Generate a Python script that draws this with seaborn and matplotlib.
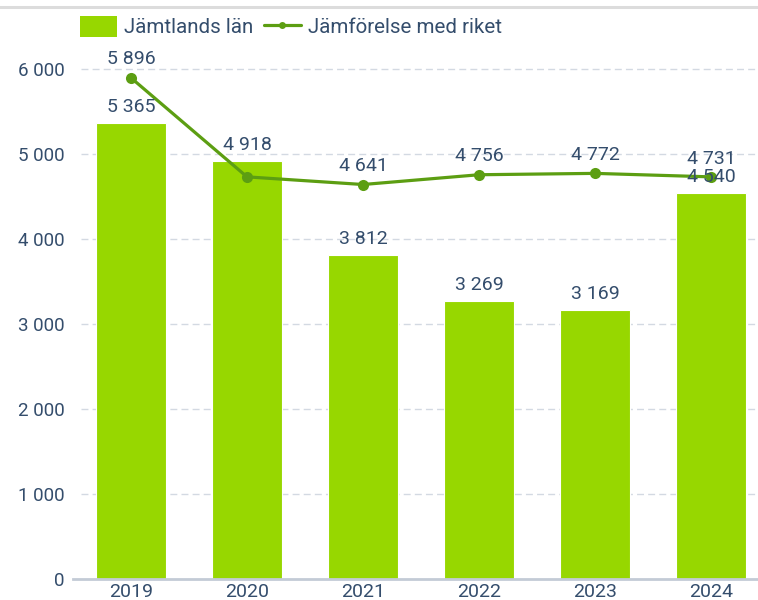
import matplotlib
matplotlib.use("Agg")
import matplotlib.pyplot as plt
from matplotlib.lines import Line2D
from matplotlib.patches import Patch
import numpy as np
import pandas as pd
import seaborn as sns

years = ["2019", "2020", "2021", "2022", "2023", "2024"]
jamtland = [5365, 4918, 3812, 3269, 3169, 4540]
riket = [5896, 4731, 4641, 4756, 4772, 4731]
yticks = [0, 1000, 2000, 3000, 4000, 5000, 6000]

BAR = "#97d700"
LINE = "#5c9e12"
TEXT = "#344d6c"
GRID = "#d3d9e2"

sns.set_theme(style="white")
plt.rcParams["font.family"] = ["Roboto", "DejaVu Sans"]


def fmt(v):
    return f"{v:,}".replace(",", " ")


df = pd.DataFrame({"year": years, "jamtland": jamtland, "riket": riket})

W, H = 758, 600
fig = plt.figure(figsize=(W / 100, H / 100), dpi=100)
ax = fig.add_axes([73 / W, 21 / H, 696 / W, 535.5 / H])

sns.barplot(data=df, x="year", y="jamtland", color=BAR, width=0.6,
            saturation=1, edgecolor="white", linewidth=0.8, ax=ax, zorder=2)
sns.lineplot(x=np.arange(len(years)), y=riket, color=LINE, linewidth=2.3,
             marker="o", markersize=8, markeredgewidth=0, ax=ax, zorder=3)

BAR_OFF, LINE_OFF = 80, 110
for i, v in enumerate(jamtland):
    ax.text(i, v + BAR_OFF, fmt(v), ha="center", va="bottom", fontsize=14,
            color=TEXT, zorder=4)
for i, v in enumerate(riket):
    # skip a line label that would collide with the bar label of the same year
    if abs((v + LINE_OFF) - (jamtland[i] + BAR_OFF)) < 190:
        continue
    ax.text(i, v + LINE_OFF, fmt(v), ha="center", va="bottom", fontsize=14,
            color=TEXT, zorder=4)

ax.set_xlim(-0.5, 5.5)
ax.set_ylim(0, 6300)
ax.set_yticks(yticks)
ax.set_yticklabels([fmt(t) for t in yticks])
ax.set_xlabel("")
ax.set_ylabel("")
ax.tick_params(axis="both", labelsize=13.5, colors=TEXT, length=0, pad=6)
ax.tick_params(axis="x", labelsize=14, pad=3)

for t in yticks[1:]:
    ax.axhline(t, color=GRID, linewidth=1, linestyle=(0, (5, 3)), zorder=1,
               xmin=8 / 696)

for side in ["top", "right", "left"]:
    ax.spines[side].set_visible(False)
ax.spines["bottom"].set_color("#c3cbd6")
ax.spines["bottom"].set_linewidth(2)
ax.spines["bottom"].set_zorder(5)

fig.add_artist(Line2D([0, 1], [1 - 7 / H, 1 - 7 / H], color="#dcdcdc",
                      linewidth=2.2, transform=fig.transFigure))

handles = [
    Patch(facecolor=BAR, edgecolor="none"),
    Line2D([0], [0], color=LINE, linewidth=2.3, marker="o", markersize=5,
           markeredgewidth=0),
]
fig.legend(handles, ["Jämtlands län", "Jämförelse med riket"],
           loc="upper left", bbox_to_anchor=(72 / W, 1 - 8 / H), ncol=2,
           frameon=False, fontsize=14.8, labelcolor=TEXT,
           handlelength=1.8, handleheight=1.15, handletextpad=0.35,
           columnspacing=0.5, borderaxespad=0)

fig.savefig("out.png", dpi=100)
